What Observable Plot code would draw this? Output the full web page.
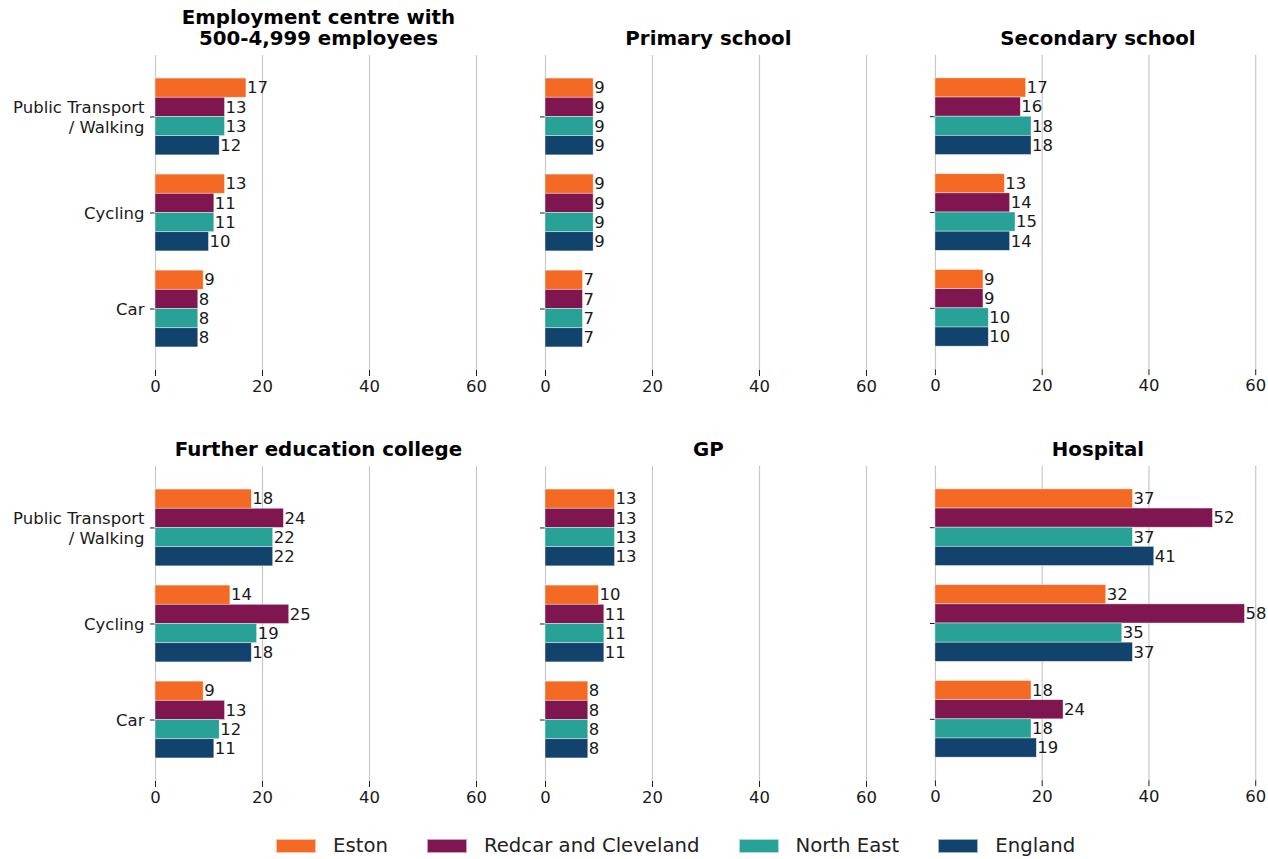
<!DOCTYPE html>
<html>
<head>
<meta charset="utf-8">
<script src="https://cdn.jsdelivr.net/npm/d3@7"></script>
<script src="https://cdn.jsdelivr.net/npm/@observablehq/plot@0.6"></script>
<style>
  html, body { margin: 0; padding: 0; background: #fff; overflow: hidden; }
  #root { position: relative; width: 1268px; height: 859px; font-family: "DejaVu Sans", sans-serif; }
  .panel { position: absolute; }
  .panel svg { overflow: visible; }
  #legend { position: absolute; left: 276px; top: 834px; display: flex; align-items: center; font-size: 19.7px; color: #222; white-space: nowrap; }
  .item { display: flex; align-items: center; margin-right: 39px; }
  .sw { width: 40px; height: 14px; margin-right: 17px; box-sizing: border-box; border: 0.6px solid rgba(255,255,255,0.6); }
</style>
</head>
<body>
<div id="root"><div id="legend"></div></div>
<script>
// ---- data ----
const categories = ["Public Transport\n/ Walking", "Cycling", "Car"];
const series = ["Eston", "Redcar and Cleveland", "North East", "England"];
const panelTitles = [
  "Employment centre with\n500-4,999 employees",
  "Primary school",
  "Secondary school",
  "Further education college",
  "GP",
  "Hospital"
];
// values[category][series]
const employmentCentre = [[17, 13, 13, 12], [13, 11, 11, 10], [9, 8, 8, 8]];
const primarySchool    = [[9, 9, 9, 9], [9, 9, 9, 9], [7, 7, 7, 7]];
const secondarySchool  = [[17, 16, 18, 18], [13, 14, 15, 14], [9, 9, 10, 10]];
const furtherEducation = [[18, 24, 22, 22], [14, 25, 19, 18], [9, 13, 12, 11]];
const gp               = [[13, 13, 13, 13], [10, 11, 11, 11], [8, 8, 8, 8]];
const hospital         = [[37, 52, 37, 41], [32, 58, 35, 37], [18, 24, 18, 19]];
const xTicks = [0, 20, 40, 60];

// ---- styles ----
const colors = ["#F46A25", "#801650", "#28A197", "#12436D"];
const panelValues = [employmentCentre, primarySchool, secondarySchool, furtherEducation, gp, hospital];

const root = document.getElementById("root");
const pxPerUnit = 5.35;
const xMax = 60.9;
const plotW = xMax * pxPerUnit;
const rowTop = [0, 411];
const frameLeft = [155, 545, 935];
const fs = 16.5;

panelValues.forEach((vals, p) => {
  const col = p % 3, row = Math.floor(p / 3);
  const rows = [];
  vals.forEach((arr, ci) => arr.forEach((v, si) => {
    const yc = ci + (si - 1.5) * 0.2;
    rows.push({category: categories[ci], series: series[si], value: v, y1: yc - 0.1, y2: yc + 0.1, yc});
  }));
  const catRows = categories.map((c, i) => ({label: c, i}));
  const mLeft = col === 0 ? 155 : 30;
  const mRight = col === 2 ? 8 : 25;
  const chart = Plot.plot({
    width: mLeft + plotW + mRight,
    height: 405,
    marginLeft: mLeft,
    marginRight: mRight,
    marginTop: 55,
    marginBottom: 35,
    style: {fontFamily: "DejaVu Sans", fontSize: fs + "px", color: "#1a1a1a", background: "transparent", overflow: "visible"},
    x: {domain: [0, xMax], ticks: xTicks, tickSize: 6, tickPadding: 4, label: null},
    y: {domain: [-0.64, 2.64], reverse: true, ticks: [0, 1, 2], tickFormat: () => "", tickSize: 5, label: null},
    color: {domain: series, range: colors},
    marks: [
      Plot.ruleX(xTicks, {stroke: "#c8c8c8", strokeWidth: 1.2}),
      Plot.rect(rows, {x1: () => 0, x2: "value", y1: "y1", y2: "y2", fill: "series", stroke: "white", strokeWidth: 0.7, strokeOpacity: 0.6}),
      Plot.text(rows, {x: "value", y: "yc", text: d => String(d.value), textAnchor: "start", dx: 0.5, fontSize: fs, fill: "#1a1a1a"}),
      col === 0 ? Plot.text(catRows, {y: "i", text: "label", frameAnchor: "left", textAnchor: "end", dx: -11, fontSize: fs, lineHeight: 1.18, fill: "#1a1a1a"}) : null,
      Plot.text([panelTitles[p]], {frameAnchor: "top", text: d => d, lineAnchor: "bottom", dy: -10, fontSize: 19.8, fontWeight: "bold", fill: "#000", lineHeight: 1.1})
    ]
  });
  const div = document.createElement("div");
  div.className = "panel";
  div.style.left = (frameLeft[col] - mLeft) + "px";
  div.style.top = rowTop[row] + "px";
  div.appendChild(chart);
  root.appendChild(div);
});

const legend = document.getElementById("legend");
series.forEach((s, i) => {
  const item = document.createElement("div");
  item.className = "item";
  const sw = document.createElement("div");
  sw.className = "sw";
  sw.style.background = colors[i];
  const t = document.createElement("span");
  t.textContent = s;
  item.appendChild(sw);
  item.appendChild(t);
  legend.appendChild(item);
});
</script>
</body>
</html>
